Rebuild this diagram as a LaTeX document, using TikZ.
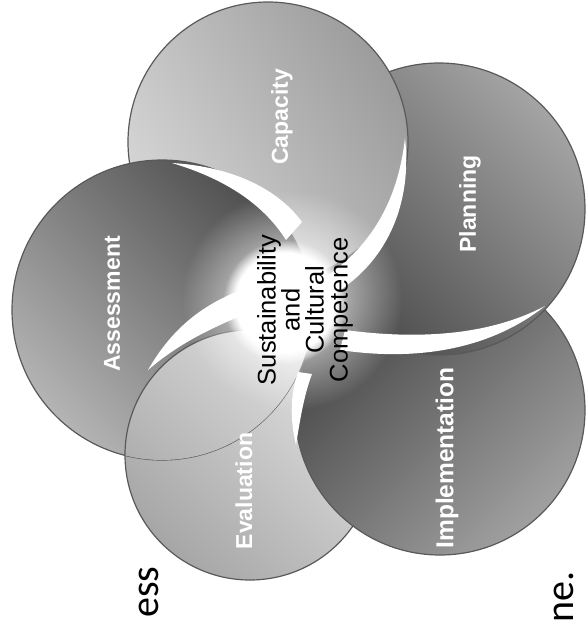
\documentclass[tikz,border=0pt]{standalone}
\usepackage{fontspec}
\setmainfont{Liberation Sans}
\newfontfamily\slidefont{Carlito}
\usetikzlibrary{fadings}

\definecolor{capLight}{HTML}{D6D6D6}
\definecolor{capDark}{HTML}{9C9C9C}
\definecolor{planLight}{HTML}{A4A4A4}
\definecolor{planDark}{HTML}{4A4A4A}
\definecolor{implLight}{HTML}{A0A0A0}
\definecolor{implDark}{HTML}{444444}
\definecolor{evalLight}{HTML}{E2E2E2}
\definecolor{evalDark}{HTML}{A6A6A6}
\definecolor{assessLight}{HTML}{B4B4B4}
\definecolor{assessDark}{HTML}{4E4E4E}

\tikzfading[name=hubfade, inner color=transparent!0, outer color=transparent!100]

\tikzset{
  petal/.style={draw=black!65, line width=1.2pt},
  swirl/.style={fill=white, draw=none},
  petallabel/.style={text=white, font=\bfseries\fontsize{23}{25}\selectfont,
    rotate=90, inner sep=0pt},
  hublabel/.style={font=\fontsize{25.5}{24}\selectfont, align=center,
    rotate=90, inner sep=0pt},
  slidetext/.style={font=\slidefont\fontsize{40}{44}\selectfont,
    rotate=90, anchor=base west, inner sep=0pt},
}

\begin{document}
\begin{tikzpicture}[x=1pt,y=-1pt]
    \useasboundingbox (0,0) rectangle (587,624);
    \clip (0,0) rectangle (587,624);

    % Evaluation petal (bottom of the stack)
    \shade[petal, top color=evalLight, bottom color=evalDark, shading angle=-45]
        (250,455) circle (125);

    % Implementation petal
    \shade[petal, top color=implDark, bottom color=implLight, shading angle=45]
        (440,410) circle (145);

    % Planning petal
    \shade[petal, top color=planLight, bottom color=planDark, shading angle=-45]
        (439,209) circle (146);

    % Capacity petal
    \shade[petal, top color=capDark, bottom color=capLight, shading angle=-60]
        (268,142) circle (140);

    % Assessment petal
    \shade[petal, top color=assessDark, bottom color=assessLight, shading angle=-45]
        (162,310) circle (150);

    % Evaluation again, over Assessment
    \begin{scope}
        \clip (162,310) circle (150);
        \shade[petal, top color=evalLight, bottom color=evalDark, shading angle=-45]
            (250,455) circle (125);
    \end{scope}

    % Light hub
    \fill[white, path fading=hubfade] (292,300) circle (110);
    \fill[white, path fading=circle with fuzzy edge 20 percent] (285,302) circle (62);

    % Swirls between the petals
    \fill[swirl] (302,222) .. controls (275,185) and (225,166) .. (172,163)
        .. controls (222,178) and (262,202) .. (286,240) -- cycle;
    \fill[swirl] (318,282) .. controls (372,248) and (398,200) .. (405,138)
        .. controls (412,200) and (390,260) .. (334,294) -- cycle;
    \fill[swirl] (345,330) .. controls (420,340) and (490,335) .. (545,306)
        .. controls (492,348) and (420,362) .. (340,350) -- cycle;
    \fill[swirl] (298,372) .. controls (290,395) and (290,420) .. (296,445)
        .. controls (300,420) and (304,395) .. (312,374) -- cycle;
    \fill[swirl] (262,282) .. controls (215,298) and (178,318) .. (148,370)
        .. controls (185,338) and (225,322) .. (270,304) -- cycle;

    % Petal labels
    \node[petallabel] (capacity) at (282,117) {Capacity};
    \node[petallabel] (planning) at (470,204) {Planning};
    \node[petallabel, font=\bfseries\fontsize{24.5}{26}\selectfont]
        (implementation) at (447,458) {Implementation};
    \node[petallabel] (evaluation) at (244,491) {Evaluation};
    \node[petallabel] (assessment) at (112,304) {Assessment};

    % Hub label
    \node[hublabel] (hub) at (305,310)
        {Sustainability\\and\\Cultural\\Competence};

    % Cut-off slide text
    \node[slidetext] (process) at (158,618) {ess};
    \node[slidetext] (line) at (573,623) {ne.};
\end{tikzpicture}
\end{document}
